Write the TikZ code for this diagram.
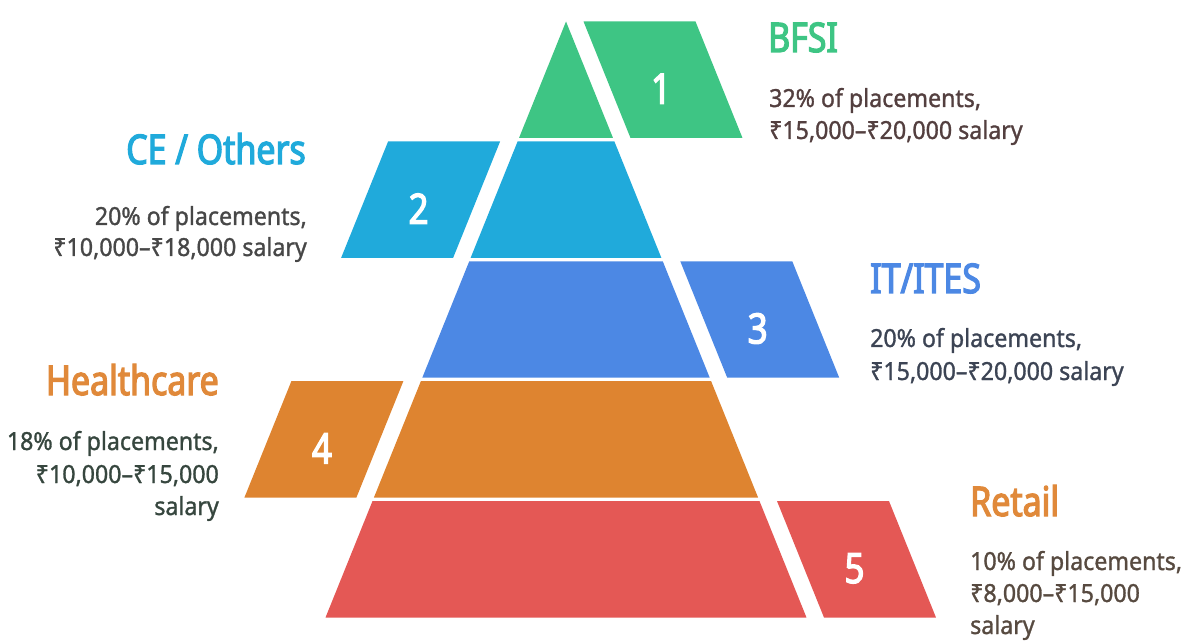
\documentclass[tikz,border=0pt]{standalone}
\usepackage{fontspec}
\setmainfont[FakeStretch=0.93,FakeBold=1.2]{Noto Sans}
\newfontfamily\headfont[FakeStretch=0.83,FakeBold=3]{Noto Sans}
\usetikzlibrary{calc}

\definecolor{cBFSI}{HTML}{3EC584}
\definecolor{cCE}{HTML}{20AADB}
\definecolor{cIT}{HTML}{4C88E4}
\definecolor{cHC}{HTML}{DE8430}
\definecolor{cRT}{HTML}{E45855}
\definecolor{cHCt}{HTML}{E0893A}
\definecolor{tBFSI}{HTML}{533F3F}
\definecolor{tCE}{HTML}{474747}
\definecolor{tIT}{HTML}{3C4454}
\definecolor{tHC}{HTML}{36463E}
\definecolor{tRT}{HTML}{574A40}

\tikzset{
  numtext/.style={text=white, inner sep=0pt, font=\headfont\fontsize{42}{42}\selectfont},
  headtext/.style={inner sep=0pt, font=\headfont\fontsize{41}{41}\selectfont},
  desctext/.style={inner sep=0pt, font=\fontsize{25}{31}\selectfont},
}

\begin{document}
\begin{tikzpicture}[x=1bp, y=-1bp]
\useasboundingbox (0,0) rectangle (1184,641);
\def\k{0.4035}
% pyramid layers with their numbered side tabs
\foreach \i/\col/\side in {1/cBFSI/1, 2/cCE/-1, 3/cIT/1, 4/cHC/-1, 5/cRT/1} {
  \pgfmathsetmacro\t{21.5+119.9*(\i-1)}
  \pgfmathsetmacro\b{\t+116.4}
  \pgfmathsetmacro\tl{566-\k*(\t-21.5)}
  \pgfmathsetmacro\tr{566+\k*(\t-21.5)}
  \pgfmathsetmacro\bl{566-\k*(\b-21.5)}
  \pgfmathsetmacro\br{566+\k*(\b-21.5)}
  \fill[\col] (\tl,\t) -- (\tr,\t) -- (\br,\b) -- (\bl,\b) -- cycle;
  \ifnum\side=1
    \pgfmathsetmacro\pa{\tr+17.5}
    \pgfmathsetmacro\pb{\br+17.5}
  \else
    \pgfmathsetmacro\pa{\tl-17.5-112}
    \pgfmathsetmacro\pb{\bl-17.5-112}
  \fi
  \fill[\col] (\pa,\t) -- ++(112,0) -- (\pb+112,\b) -- (\pb,\b) -- cycle;
  \node[numtext] (n\i) at ({(\pa+\pb+112)/2-2}, {(\t+\b)/2+9}) {\i};
}

% BFSI
\node[headtext, text=cBFSI, anchor=base west] (h1) at (768,52) {BFSI};
\node[desctext, text=tBFSI, anchor=base west] (d1a) at (769,107) {32\% of placements,};
\node[desctext, text=tBFSI, anchor=base west] (d1b) at (769,139) {₹15,000–₹20,000 salary};

% CE / Others
\node[headtext, text=cCE, anchor=base east] (h2) at (306,164) {CE / Others};
\node[desctext, text=tCE, anchor=base east] (d2a) at (307,225) {20\% of placements,};
\node[desctext, text=tCE, anchor=base east] (d2b) at (307,256) {₹10,000–₹18,000 salary};

% IT/ITES
\node[headtext, text=cIT, anchor=base west] (h3) at (870,293) {IT/ITES};
\node[desctext, text=tIT, anchor=base west] (d3a) at (870,347) {20\% of placements,};
\node[desctext, text=tIT, anchor=base west] (d3b) at (870,380) {₹15,000–₹20,000 salary};

% Healthcare
\node[headtext, text=cHCt, anchor=base east] (h4) at (219,395) {Healthcare};
\node[desctext, text=tHC, anchor=base east] (d4a) at (219,450) {18\% of placements,};
\node[desctext, text=tHC, anchor=base east] (d4b) at (219,483) {₹10,000–₹15,000};
\node[desctext, text=tHC, anchor=base east] (d4c) at (219,515) {salary};

% Retail
\node[headtext, text=cHCt, anchor=base west] (h5) at (970,516) {Retail};
\node[desctext, text=tRT, anchor=base west] (d5a) at (970,570) {10\% of placements,};
\node[desctext, text=tRT, anchor=base west] (d5b) at (970,602) {₹8,000–₹15,000};
\node[desctext, text=tRT, anchor=base west] (d5c) at (970,634) {salary};
\end{tikzpicture}
\end{document}
